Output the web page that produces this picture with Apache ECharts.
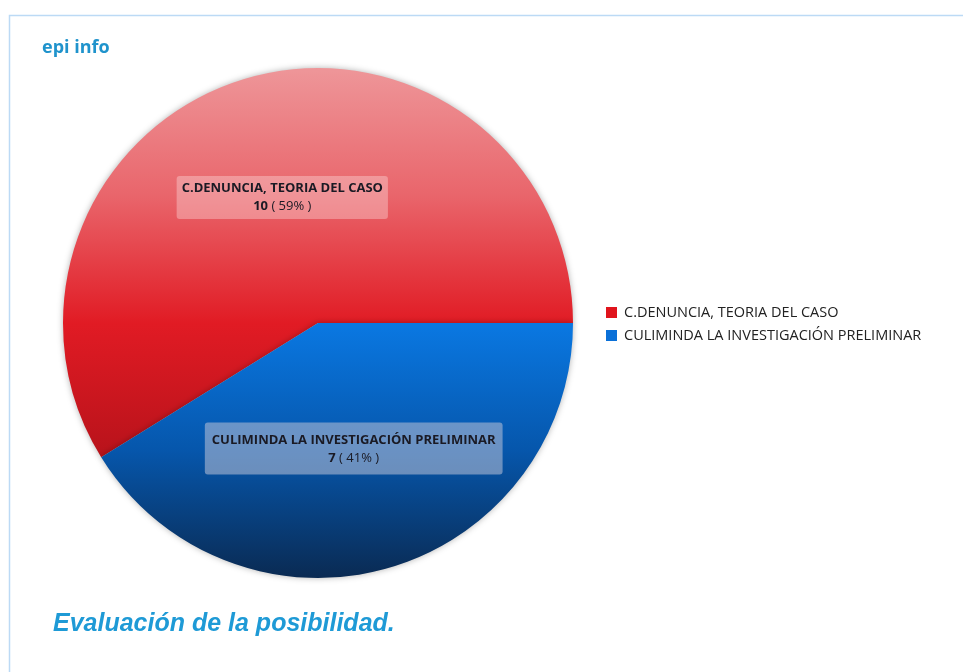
<!DOCTYPE html>
<html><head><meta charset="utf-8">
<script src="https://cdn.jsdelivr.net/npm/echarts@6/dist/echarts.min.js"></script>
<style>html,body{margin:0;padding:0;background:#fff}#c{width:963px;height:672px}</style>
</head><body><div id="c"></div>
<script>
const categories = ["C.DENUNCIA, TEORIA DEL CASO", "CULIMINDA LA INVESTIGACIÓN PRELIMINAR"];
const values = [10, 7];
const percents = [59, 41];
const legendColors = ['#e0141c', '#0a70d8'];

const chart = echarts.init(document.getElementById('c'), null, {renderer: 'canvas'});

const redFill = {type: 'linear', x: 0, y: 68, x2: 0, y2: 579, global: true, colorStops: [
  {offset: 0, color: '#ee9699'}, {offset: 0.25, color: '#e9656b'}, {offset: 0.5, color: '#e11b24'},
  {offset: 0.78, color: '#b5121a'}, {offset: 1, color: '#8a0d12'}]};
const blueFill = {type: 'linear', x: 0, y: 68, x2: 0, y2: 579, global: true, colorStops: [
  {offset: 0, color: '#2f8ff0'}, {offset: 0.5, color: '#0a78e2'}, {offset: 0.75, color: '#0656ab'},
  {offset: 1, color: '#0a2a52'}]};
const fills = [redFill, blueFill];
const labelBg = ['rgba(255,235,235,0.35)', 'rgba(190,195,215,0.55)'];
const labelPad = [[3, 5, 4, 5], [9, 7, 7, 7]];

const data = categories.map((name, i) => ({
  name, value: values[i],
  itemStyle: {color: fills[i]},
  label: {backgroundColor: labelBg[i], padding: labelPad[i],
    formatter: '{n|' + name + '}\n{v|' + values[i] + '}{p| ( ' + percents[i] + '% )}'}
}));

chart.setOption({
  animation: false,
  color: legendColors,
  graphic: [
    {type: 'rect', shape: {x: 9.5, y: 15.5, width: 1000, height: 700}, style: {fill: 'none', stroke: '#bcdaf5', lineWidth: 1.5}, silent: true}
  ],
  title: [
    {text: 'epi info', left: 37, top: 34, textStyle: {fontFamily: 'Open Sans', fontWeight: 'bold', fontSize: 18, color: '#1f93cc'}},
    {text: 'Evaluación de la posibilidad.', left: 48, top: 607, textStyle: {fontFamily: 'Liberation Sans', fontWeight: 'bold', fontStyle: 'italic', fontSize: 25, color: '#1e9ad6'}}
  ],
  legend: {
    orient: 'vertical', left: 601, top: 300, itemWidth: 11, itemHeight: 11, itemGap: 8, icon: 'rect',
    data: categories.map((n, i) => ({name: n, itemStyle: {color: legendColors[i]}})),
    textStyle: {fontFamily: 'Open Sans', fontSize: 14.5, color: '#222', padding: [0, 0, 0, 2]}
  },
  series: [{
    type: 'pie', center: [318, 323], radius: 255, startAngle: 0, clockwise: false,
    data,
    itemStyle: {shadowBlur: 6, shadowColor: 'rgba(0,0,0,0.3)'},
    label: {
      show: true, position: 'inside', borderRadius: 3, align: 'center', lineHeight: 18,
      rich: {
        n: {fontFamily: 'Open Sans', fontWeight: 'bold', fontSize: 13, color: '#1a1a24', letterSpacing: -0.3, lineHeight: 18},
        v: {fontFamily: 'Open Sans', fontWeight: 'bold', fontSize: 13, color: '#1a1a24', lineHeight: 18},
        p: {fontFamily: 'Open Sans', fontSize: 13, color: '#1a1a24', lineHeight: 18}
      }
    },
    labelLine: {show: false},
    emphasis: {disabled: true}
  }]
});
</script></body></html>
